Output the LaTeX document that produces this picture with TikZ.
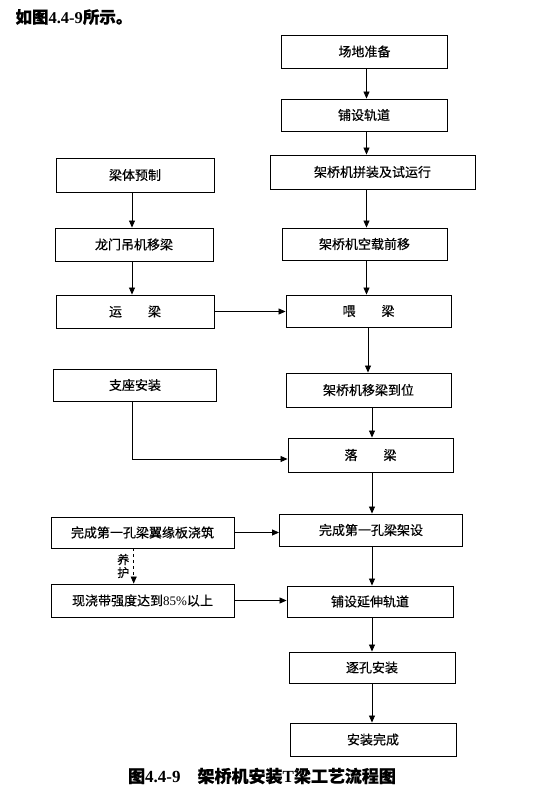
\documentclass[tikz,border=0pt]{standalone}
\usepackage{fontspec}
\setmainfont{Noto Sans CJK SC}[FakeBold=0.4]
\newfontfamily\numfont{Liberation Serif}
\usetikzlibrary{arrows.meta}
\tikzset{box/.style = {shape=rectangle,draw,line width=0.9pt,inner sep=2pt,font=\fontsize{13}{15}\selectfont}}
\tikzset{arr/.style = {-{Triangle[length=7pt,width=6pt]},line width=0.8pt}}

\begin{document}
\begin{tikzpicture}[x=1pt,y=-1pt]
\tikzset{box/.style = {shape=rectangle,draw,line width=0.9pt,inner sep=2pt,font=\fontsize{13}{15}\selectfont}}
\tikzset{arr/.style = {-{Triangle[length=7pt,width=6pt]},line width=0.8pt}}
\useasboundingbox (0,0) rectangle (554,789);
% text
\node[anchor=west,font=\fontsize{16.5}{18}\selectfont\bfseries] (head) at (12,17) {如图{\numfont\bfseries 4.4-9}所示。};
\node[font=\fontsize{17}{19}\selectfont\bfseries] (cap) at (262,776) {图{\numfont\bfseries 4.4-9}\hspace{1em}架桥机安装{\numfont\bfseries T}梁工艺流程图};
% boxes right
\node[box,minimum width=166pt,minimum height=33pt] (r1) at (364.5,51.5) {场地准备};
\node[box,minimum width=166pt,minimum height=32pt] (r2) at (364,115) {铺设轨道};
\node[box,minimum width=205pt,minimum height=34pt] (r3) at (372.5,172) {架桥机拼装及试运行};
\node[box,minimum width=165pt,minimum height=32pt] (r4) at (364.5,244) {架桥机空载前移};
\node[box,minimum width=165pt,minimum height=32pt] (r5) at (368.5,311) {喂\hspace{2em}梁};
\node[box,minimum width=165pt,minimum height=34pt] (r6) at (368.5,390) {架桥机移梁到位};
\node[box,minimum width=165pt,minimum height=34pt] (r7) at (370.5,455) {落\hspace{2em}梁};
\node[box,minimum width=183pt,minimum height=32pt] (r8) at (371,530) {完成第一孔梁架设};
\node[box,minimum width=166pt,minimum height=31pt] (r9) at (370,601.5) {铺设延伸轨道};
\node[box,minimum width=166pt,minimum height=31pt] (r10) at (372,667.5) {逐孔安装};
\node[box,minimum width=166pt,minimum height=33pt] (r11) at (373,739.5) {安装完成};
% boxes left
\node[box,minimum width=158pt,minimum height=34pt] (l1) at (135,175) {梁体预制};
\node[box,minimum width=158pt,minimum height=33pt] (l2) at (134,244.5) {龙门吊机移梁};
\node[box,minimum width=158pt,minimum height=33pt] (l3) at (135,311.5) {运\hspace{2em}梁};
\node[box,minimum width=163pt,minimum height=32pt] (l4) at (135,385) {支座安装};
\node[box,minimum width=183pt,minimum height=31pt] (l5) at (142.5,532.5) {完成第一孔梁翼缘板浇筑};
\node[box,minimum width=183pt,minimum height=33pt] (l6) at (142.5,600.5) {现浇带强度达到{\numfont 85\%}以上};
% columns
\coordinate (ra) at (366.5,0);
\coordinate (rb) at (368,0);
\coordinate (rc) at (372,0);
\coordinate (la) at (132,0);
\coordinate (lb) at (133.7,0);
\coordinate (lj) at (132.6,459);
%arrows
\draw[arr] (r1.south -| ra) to (r2.north -| ra);
\draw[arr] (r2.south -| ra) to (r3.north -| ra);
\draw[arr] (r3.south -| ra) to (r4.north -| ra);
\draw[arr] (r4.south -| ra) to (r5.north -| ra);
\draw[arr] (r5.south -| rb) to (r6.north -| rb);
\draw[arr] (r6.south -| rc) to (r7.north -| rc);
\draw[arr] (r7.south -| rc) to (r8.north -| rc);
\draw[arr] (r8.south -| rc) to (r9.north -| rc);
\draw[arr] (r9.south -| rc) to (r10.north -| rc);
\draw[arr] (r10.south -| rc) to (r11.north -| rc);
\draw[arr] (l1.south -| la) to (l2.north -| la);
\draw[arr] (l2.south -| la) to (l3.north -| la);
\draw[arr] (l3.east) to (l3.east -| r5.west);
\draw[arr] (l4.south -| lj) -- (lj) -- (lj -| r7.west);
\draw[arr] (l5.east) to (l5.east -| r8.west);
\draw[arr] (l6.east) to (l6.east -| r9.west);
\draw[arr,dashed] (l5.south -| lb) to node[left=4pt,align=center,inner sep=0pt,font=\fontsize{12}{13}\selectfont] {养\\护} (l6.north -| lb);
\end{tikzpicture}
\end{document}
